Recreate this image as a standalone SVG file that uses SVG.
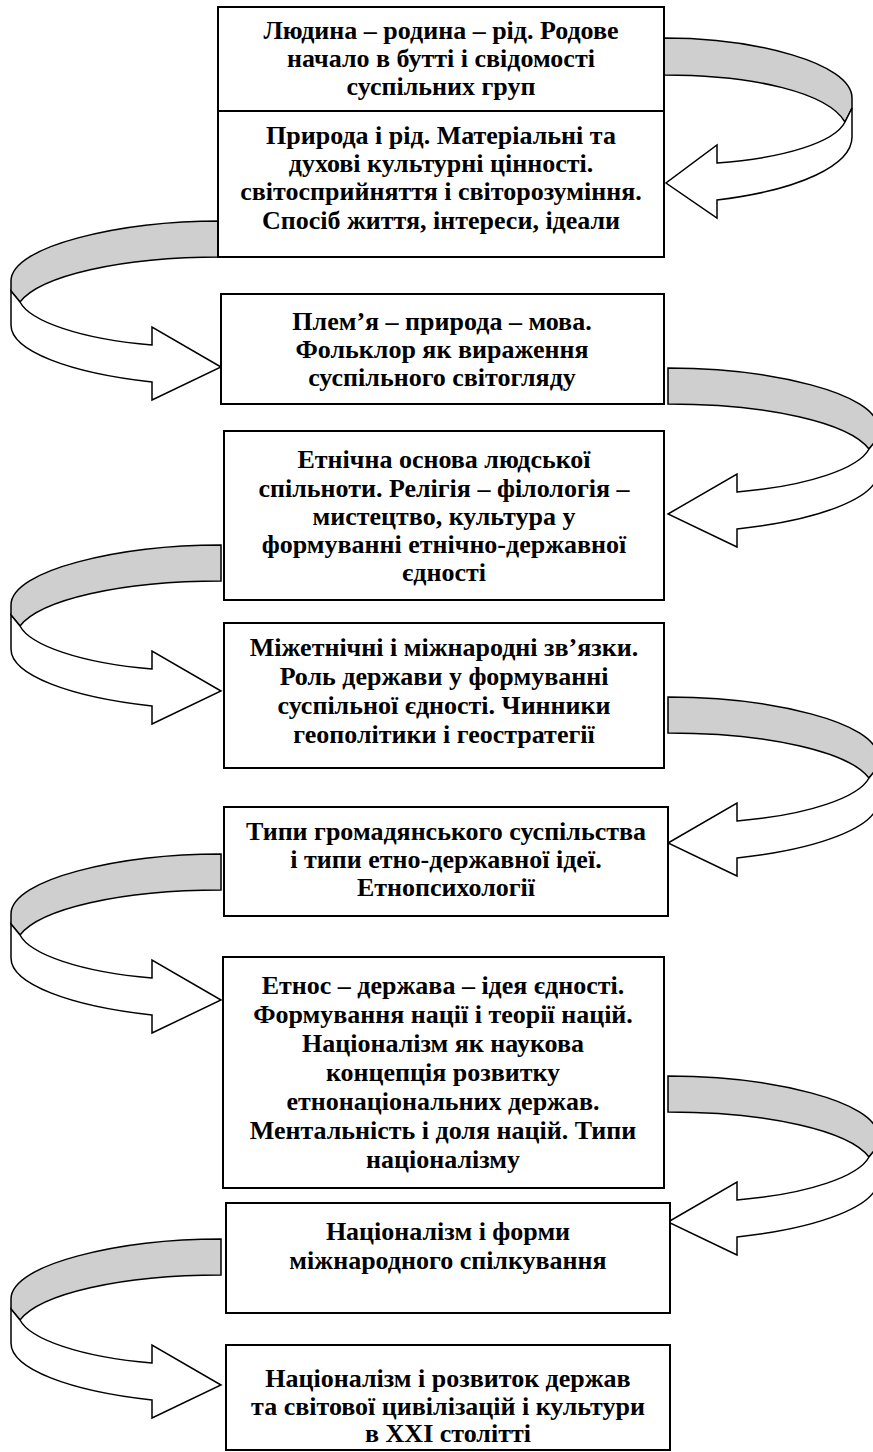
<svg xmlns="http://www.w3.org/2000/svg" xmlns:xlink="http://www.w3.org/1999/xlink" width="873" height="1452" viewBox="0 0 873 1452">
<style>
.box{fill:#fff;stroke:#000;stroke-width:2}
.t{font-family:"Liberation Serif","Times New Roman",serif;font-weight:bold;font-size:26px;text-anchor:middle;fill:#000}
.g{fill:#cfcfcf;stroke:#000;stroke-width:1.5;stroke-linejoin:miter}
.w{fill:#fff;stroke:#000;stroke-width:1.5;stroke-linejoin:miter}
</style>
<defs>
<g id="larrow">
<path class="g" d="M221,0 C120,0 11,25 11,60 L11,70 L20,81 C40,55 120,36 221,36 Z"/>
<path class="w" d="M11,70 L11,104 C11,130 70,152 152,161 L152,179 L221,146 L152,106 L152,124 C80,118 30,100 20,81 Z"/>
</g>
</defs>
<rect width="873" height="1452" fill="#fff"/>
<g id="connectors">
<g id="arrow1">
<path class="g" d="M664,38 C755,38 852,63 852,98 L852,108 L845,122 C828,93 755,75 664,75 Z"/>
<path class="w" d="M852,108 L852,137 C852,165 800,190 717,200 L717,218 L666,183 L717,145 L717,163 C785,158 835,142 845,122 Z"/>
</g>
<use id="arrow2" xlink:href="#larrow" href="#larrow" transform="translate(0,221)"/>
<use id="arrow3" xlink:href="#larrow" href="#larrow" transform="translate(889,368) scale(-1,1)"/>
<use id="arrow4" xlink:href="#larrow" href="#larrow" transform="translate(0,545)"/>
<use id="arrow5" xlink:href="#larrow" href="#larrow" transform="translate(889,697) scale(-1,1)"/>
<use id="arrow6" xlink:href="#larrow" href="#larrow" transform="translate(0,854)"/>
<use id="arrow7" xlink:href="#larrow" href="#larrow" transform="translate(889,1076) scale(-1,1)"/>
<use id="arrow8" xlink:href="#larrow" href="#larrow" transform="translate(0,1239)"/>
</g>
<g id="node1">
<rect class="box" x="218" y="7" width="446" height="104"/>
<text class="t"><tspan x="441" y="39">Людина – родина – рід. Родове</tspan><tspan x="441" y="67">начало в бутті і свідомості</tspan><tspan x="441" y="95">суспільних груп</tspan></text>
</g>
<g id="node2">
<rect class="box" x="218" y="111" width="446" height="146"/>
<text class="t"><tspan x="441" y="144">Природа і рід. Матеріальні та</tspan><tspan x="441" y="172">духові культурні цінності.</tspan><tspan x="441" y="200">світосприйняття і світорозуміння.</tspan><tspan x="441" y="229">Спосіб життя, інтереси, ідеали</tspan></text>
</g>
<g id="node3">
<rect class="box" x="221" y="294" width="443" height="110"/>
<text class="t"><tspan x="442" y="330">Плем’я – природа – мова.</tspan><tspan x="442" y="358">Фольклор як вираження</tspan><tspan x="442" y="386">суспільного світогляду</tspan></text>
</g>
<g id="node4">
<rect class="box" x="224" y="431" width="440" height="169"/>
<text class="t"><tspan x="444" y="468">Етнічна основа людської</tspan><tspan x="444" y="497">спільноти. Релігія – філологія –</tspan><tspan x="444" y="525">мистецтво, культура у</tspan><tspan x="444" y="553">формуванні етнічно-державної</tspan><tspan x="444" y="581">єдності</tspan></text>
</g>
<g id="node5">
<rect class="box" x="224" y="623" width="440" height="145"/>
<text class="t"><tspan x="444" y="656">Міжетнічні і міжнародні зв’язки.</tspan><tspan x="444" y="685">Роль держави у формуванні</tspan><tspan x="444" y="714">суспільної єдності. Чинники</tspan><tspan x="444" y="743">геополітики і геостратегії</tspan></text>
</g>
<g id="node6">
<rect class="box" x="224" y="807" width="444" height="109"/>
<text class="t"><tspan x="446" y="840">Типи громадянського суспільства</tspan><tspan x="446" y="868">і типи етно-державної ідеї.</tspan><tspan x="446" y="896">Етнопсихології</tspan></text>
</g>
<g id="node7">
<rect class="box" x="223" y="957" width="441" height="231"/>
<text class="t"><tspan x="443" y="994">Етнос – держава – ідея єдності.</tspan><tspan x="443" y="1023">Формування нації і теорії націй.</tspan><tspan x="443" y="1052">Націоналізм як наукова</tspan><tspan x="443" y="1081">концепція розвитку</tspan><tspan x="443" y="1110">етнонаціональних держав.</tspan><tspan x="443" y="1139">Ментальність і доля націй. Типи</tspan><tspan x="443" y="1168">націоналізму</tspan></text>
</g>
<g id="node8">
<rect class="box" x="226" y="1203" width="444" height="110"/>
<text class="t"><tspan x="448" y="1240">Націоналізм і форми</tspan><tspan x="448" y="1269">міжнародного спілкування</tspan></text>
</g>
<g id="node9">
<rect class="box" x="226" y="1345" width="444" height="105"/>
<text class="t"><tspan x="448" y="1387">Націоналізм і розвиток держав</tspan><tspan x="448" y="1415">та світової цивілізацій і культури</tspan><tspan x="448" y="1442">в XXI столітті</tspan></text>
</g>
</svg>
